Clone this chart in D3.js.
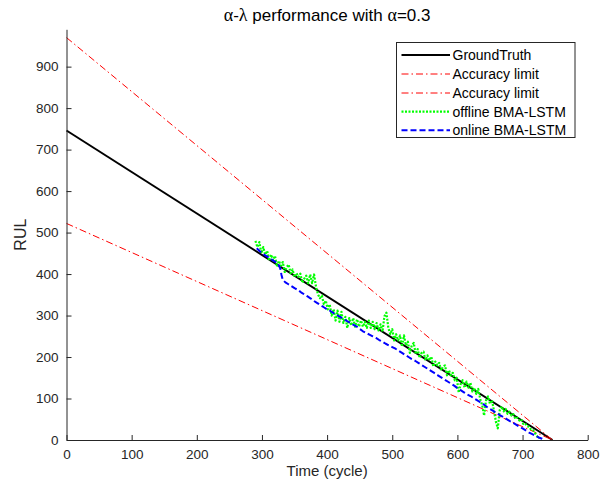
<!DOCTYPE html>
<html><head><meta charset="utf-8">
<script src="https://cdn.jsdelivr.net/npm/d3@7"></script>
<style>body{margin:0;background:#fff}svg{display:block}</style>
</head><body>
<script>
// ---- data ----
const xTicks = [0,100,200,300,400,500,600,700,800];
const yTicks = [0,100,200,300,400,500,600,700,800,900];
const gtT = [0, 746];
const gtRUL = [746, 0];
const upperRUL = [970, 0];
const lowerRUL = [522, 0];
const offT = [290,293,296,299,302,305,308,311,314,317,320,323,326,329,332,335,338,341,344,347,350,353,356,359,362,365,368,371,374,377,380,383,386,389,392,395,398,401,404,407,410,413,416,419,422,425,428,431,434,437,440,443,446,449,452,455,458,461,464,467,470,473,476,479,482,485,488,491,494,497,500,503,506,509,512,515,518,521,524,527,530,533,536,539,542,545,548,551,554,557,560,563,566,569,572,575,578,581,584,587,590,593,596,599,602,605,608,611,614,617,620,623,626,629,632,635,638,641,644,647,650,653,656,659,662,665,668,671,674,677,680,683,686,689,692,695,698,701,704,707,710,713,716,719,722,725];
const offRUL = [480,465,477,450,465,447,456,432,447,433,444,418,432,420,429,405,417,423,402,411,393,402,393,401,379,389,396,378,399,378,399,369,351,342,348,327,336,315,327,300,315,288,312,285,309,282,297,270,294,276,294,273,291,273,288,273,285,270,288,270,285,267,282,264,279,261,298,307,270,255,267,240,255,240,252,225,252,228,237,210,228,234,207,219,198,210,213,192,204,192,201,177,189,180,186,168,177,180,156,168,156,162,144,150,114,135,144,126,141,126,138,117,126,111,123,99,84,59,96,105,87,96,72,45,28,72,81,69,75,63,68,59,62,51,54,47,50,39,40,33,32,25,24,17,10,3];
const onT = [292,296,300,305,310,315,320,325,328,330,332,336,340,345,350,355,360,365,370,375,380,385,390,395,400,405,410,415,420,425,430,435,440,445,450,455,460,465,470,475,480,485,490,495,500,505,510,515,520,525,530,535,540,545,550,555,560,565,570,575,580,585,590,595,600,605,610,615,620,625,630,635,640,645,650,655,660,665,670,675,680,685,690,695,700,705,710,715,720,725,730,734];
const onRUL = [462,456,451,445,440,435,430,424,414,398,386,380,376,371,366,362,356,351,346,341,335,330,325,320,315,311,306,301,297,292,287,283,278,274,268,262,258,254,250,246,241,237,232,228,224,220,215,210,205,200,195,191,186,181,176,171,166,161,156,151,146,141,136,131,125,120,115,110,106,101,96,91,86,80,75,70,65,60,56,51,46,42,37,32,28,23,18,14,10,6,3,0];
const legendLabels = ["GroundTruth","Accuracy limit","Accuracy limit","offline BMA-LSTM","online BMA-LSTM"];

// ---- chart ----
const W = 602, H = 497;
const svg = d3.select("body").append("svg").attr("width", W).attr("height", H);
const x = d3.scaleLinear().domain([0, 800]).range([66.5, 587.7]);
const y = d3.scaleLinear().domain([0, 990]).range([440, 29.3]);
const axisColor = "#262626";
const font = "'Liberation Sans', Arial, Helvetica, sans-serif";

const styles = [
  {color:"#000000", width:2, dash:null},
  {color:"#ff0000", width:1, dash:"7,3,1.5,3"},
  {color:"#ff0000", width:1, dash:"7,3,1.5,3"},
  {color:"#00ff00", width:2.2, dash:"2,1.5"},
  {color:"#0000ff", width:2, dash:"6,3"}
];

const line = d3.line().x(d => x(d[0])).y(d => y(d[1]));
const series = [
  gtT.map((t,i)=>[t, gtRUL[i]]),
  gtT.map((t,i)=>[t, upperRUL[i]]),
  gtT.map((t,i)=>[t, lowerRUL[i]]),
  offT.map((t,i)=>[t, offRUL[i]]),
  onT.map((t,i)=>[t, onRUL[i]])
];
series.forEach((data, k) => {
  const s = styles[k];
  svg.append("path").datum(data).attr("d", line)
    .attr("fill","none").attr("stroke", s.color).attr("stroke-width", s.width)
    .attr("stroke-dasharray", s.dash).attr("stroke-linejoin","round");
});

// axes
const xAxis = d3.axisBottom(x).tickValues(xTicks).tickSizeInner(-5).tickSizeOuter(0).tickPadding(9);
const yAxis = d3.axisLeft(y).tickValues(yTicks).tickSizeInner(-5).tickSizeOuter(0).tickPadding(8);
const gx = svg.append("g").attr("transform", `translate(0,${y(0)})`).call(xAxis);
const gy = svg.append("g").attr("transform", `translate(${x(0)},0)`).call(yAxis);
[gx, gy].forEach(g => {
  g.select(".domain").attr("stroke", axisColor).attr("stroke-width", 1);
  g.selectAll(".tick line").attr("stroke", axisColor).attr("stroke-width", 1);
  g.selectAll(".tick text").attr("fill", axisColor).attr("font-family", font).attr("font-size", 13.5);
});
gx.selectAll(".tick text").attr("dy", "0.71em");

// labels
svg.append("text").attr("x", (x(0)+x(800))/2).attr("y", 476).attr("text-anchor","middle")
  .attr("font-family", font).attr("font-size", 15).attr("fill", axisColor).text("Time (cycle)");
svg.append("text").attr("transform", `translate(26,${(y(0)+y(990))/2}) rotate(-90)`)
  .attr("text-anchor","middle").attr("font-family", font).attr("font-size", 16).attr("fill", axisColor).text("RUL");

// title
const title = svg.append("text").attr("x", (x(0)+x(800))/2).attr("y", 21).attr("text-anchor","middle")
  .attr("font-family", font).attr("font-size", 17).attr("fill","#000");
const serif = "'Liberation Serif', 'DejaVu Serif', serif";
title.append("tspan").attr("font-family", serif).attr("font-size", 18).text("α");
title.append("tspan").text("-");
title.append("tspan").attr("font-family", serif).attr("font-size", 18).text("λ");
title.append("tspan").text(" performance with ");
title.append("tspan").attr("font-family", serif).attr("font-size", 18).text("α");
title.append("tspan").text("=0.3");

// legend
const lg = svg.append("g");
lg.append("rect").attr("x", 396.5).attr("y", 42.5).attr("width", 178.5).attr("height", 95)
  .attr("fill","#fff").attr("stroke", axisColor).attr("stroke-width", 1);
const rowY = [55, 74, 93, 111.7, 130.3];
legendLabels.forEach((lab, i) => {
  const s = styles[i];
  lg.append("line").attr("x1", 401.5).attr("x2", 450).attr("y1", rowY[i]).attr("y2", rowY[i])
    .attr("stroke", s.color).attr("stroke-width", s.width).attr("stroke-dasharray", s.dash);
  lg.append("text").attr("x", 452.5).attr("y", rowY[i]).attr("dy","0.35em")
    .attr("font-family", font).attr("font-size", 14).attr("fill","#000").text(lab);
});
</script>
</body></html>
